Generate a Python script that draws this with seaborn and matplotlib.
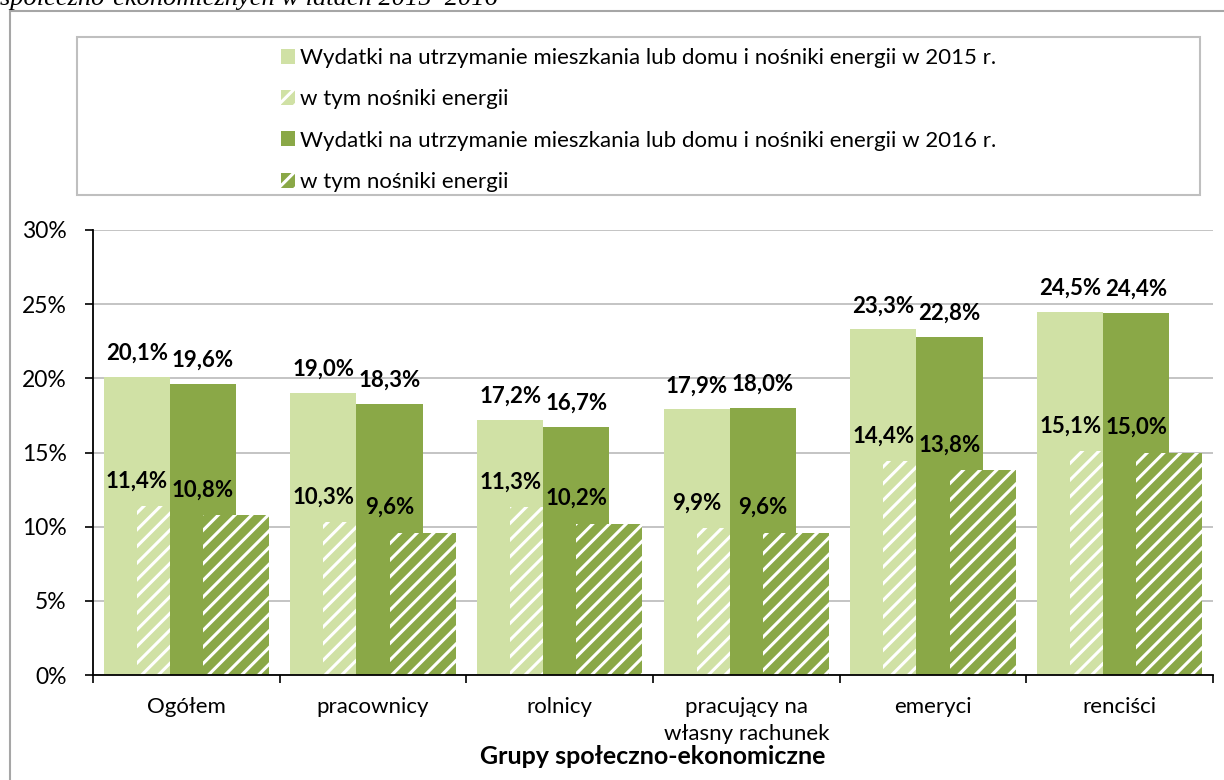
import numpy as np
import pandas as pd
import matplotlib
matplotlib.use("Agg")
import matplotlib.pyplot as plt
import seaborn as sns
from matplotlib.patches import Patch, Rectangle
from matplotlib.ticker import FuncFormatter

# ---------------- data ----------------
categories = ["Ogółem", "pracownicy", "rolnicy", "pracujący na\nwłasny rachunek", "emeryci", "renciści"]
total_2015 = [20.1, 19.0, 17.2, 17.9, 23.3, 24.5]
energy_2015 = [11.4, 10.3, 11.3, 9.9, 14.4, 15.1]
total_2016 = [19.6, 18.3, 16.7, 18.0, 22.8, 24.4]
energy_2016 = [10.8, 9.6, 10.2, 9.6, 13.8, 15.0]
legend_labels = [
    "Wydatki na utrzymanie mieszkania lub domu i nośniki energii w 2015 r.",
    "w tym nośniki energii",
    "Wydatki na utrzymanie mieszkania lub domu i nośniki energii w 2016 r.",
    "w tym nośniki energii",
]
y_ticks = [0, 5, 10, 15, 20, 25, 30]
x_title = "Grupy społeczno-ekonomiczne"
top_caption = "społeczno-ekonomicznych w latach 2015–2016"

# ---------------- style ----------------
sns.set_theme(style="white")
plt.rcParams["font.family"] = ["Lato", "DejaVu Sans"]
plt.rcParams["hatch.linewidth"] = 2.2
plt.rcParams["hatch.color"] = "white"
for k in ["text.color", "axes.labelcolor", "xtick.color", "ytick.color"]:
    plt.rcParams[k] = "black"

LIGHT = "#D0E1A5"
DARK = "#8AA847"

fig = plt.figure(figsize=(12.24, 7.8), dpi=100)
ax = fig.add_axes([93 / 1224, 105 / 780, 1120 / 1224, 445 / 780])

width = 0.354
step = 0.177
base = np.arange(len(categories))

series = [
    (total_2015, LIGHT, None, -1.5),
    (energy_2015, LIGHT, "//", -0.5),
    (total_2016, DARK, None, 0.5),
    (energy_2016, DARK, "//", 1.5),
]
for vals, col, hatch, k in series:
    df = pd.DataFrame({"x": base + k * step, "y": vals})
    kw = dict(hatch=hatch, edgecolor="white") if hatch else dict(edgecolor=col)
    sns.barplot(data=df, x="x", y="y", native_scale=True, width=width, color=col,
                saturation=1, errorbar=None, ax=ax, linewidth=0, zorder=2, **kw)

def fmt(v):
    return f"{v:.1f}%".replace(".", ",")

for vals, k in [(total_2015, -1.5), (total_2016, 0.5)]:
    for i, v in enumerate(vals):
        ax.annotate(fmt(v), (base[i] + k * step, v), xytext=(0, 17), textcoords="offset points",
                    ha="center", va="center", fontsize=16, fontweight="bold", zorder=5)
for vals, k in [(energy_2015, -1.5), (energy_2016, 0.5)]:
    for i, v in enumerate(vals):
        ax.annotate(fmt(v), (base[i] + k * step, v), xytext=(0, 18), textcoords="offset points",
                    ha="center", va="center", fontsize=16, fontweight="bold", zorder=5)

ax.set_xlim(-0.5, len(categories) - 0.5)
ax.set_ylim(0, 30)
ax.set_yticks(y_ticks)
ax.yaxis.set_major_formatter(FuncFormatter(lambda v, p: f"{v:.0f}%"))
ax.set_xticks(base)
ax.set_xticklabels(categories, linespacing=1.4)
ax.set_xticks(np.arange(len(categories) + 1) - 0.5, minor=True)

ax.tick_params(axis="y", which="major", left=True, length=6, width=1.2, pad=13, labelsize=16.5, direction="out")
ax.tick_params(axis="x", which="major", bottom=True, length=0, pad=16, labelsize=16)
ax.tick_params(axis="x", which="minor", bottom=True, length=6, width=1.2, direction="out")

ax.set_axisbelow(True)
ax.yaxis.grid(True, color="#BFBFBF", linewidth=1.3)
ax.xaxis.grid(False)
for s in ["top", "right"]:
    ax.spines[s].set_visible(False)
for s in ["left", "bottom"]:
    ax.spines[s].set_color("black")
    ax.spines[s].set_linewidth(1.3)

ax.set_ylabel("")
ax.set_xlabel(x_title, fontsize=18, fontweight="bold", labelpad=1)

handles = [
    Patch(facecolor=LIGHT, edgecolor=LIGHT, linewidth=0),
    Patch(facecolor=LIGHT, edgecolor="white", linewidth=0, hatch="//"),
    Patch(facecolor=DARK, edgecolor=DARK, linewidth=0),
    Patch(facecolor=DARK, edgecolor="white", linewidth=0, hatch="//"),
]
fig.legend(handles, legend_labels, loc="upper left", bbox_to_anchor=(281 / 1224, 1 - 48 / 780),
           frameon=False, fontsize=16, handlelength=0.65, handleheight=0.65,
           handletextpad=0.2, labelspacing=0.96, borderaxespad=0, borderpad=0)

fig.add_artist(Rectangle((77 / 1224, 1 - 195 / 780), (1200 - 77) / 1224, 158 / 780,
                         transform=fig.transFigure, fill=False, edgecolor="#BFBFBF", linewidth=1.5))
fig.add_artist(Rectangle((10 / 1224, -0.05), 1.2, 1.05 - 11 / 780,
                         transform=fig.transFigure, fill=False, edgecolor="#A6A6A6", linewidth=1.5))
fig.text(0, 1 - 5 / 780, top_caption, fontfamily=["Liberation Serif"], fontstyle="italic",
         fontsize=19, va="baseline", ha="left")

fig.savefig("out.png", dpi=100)
